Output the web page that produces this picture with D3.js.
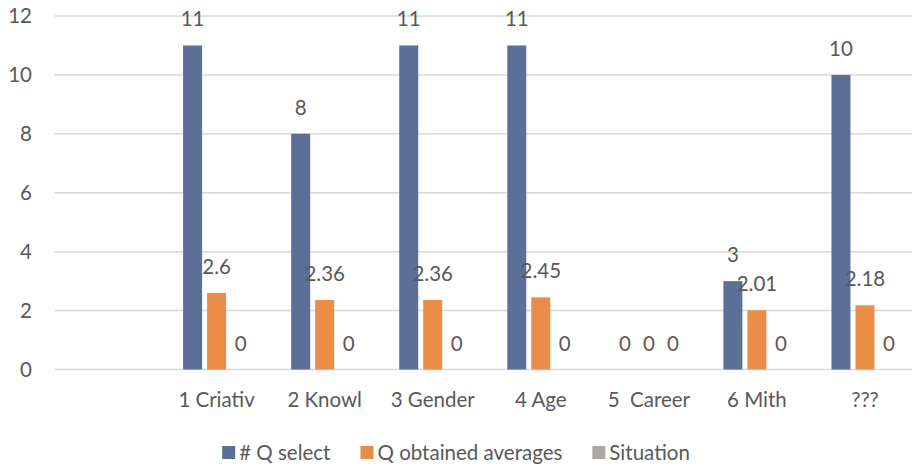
<!DOCTYPE html>
<html>
<head>
<meta charset="utf-8">
<script src="https://cdn.jsdelivr.net/npm/d3@7"></script>
<style>
  html, body { margin: 0; padding: 0; background: #fff; }
  svg { display: block; }
  text { font-family: Lato, "Open Sans", sans-serif; fill: #595959; white-space: pre; }
</style>
</head>
<body>
<svg id="chart" width="912" height="467"></svg>
<script>
// Categories (the first slot is an empty category)
const categories = ["", "1 Criativ", "2 Knowl", "3 Gender", "4 Age", "5  Career", "6 Mith", "???"];
const seriesNames = ["# Q select", "Q obtained averages", "Situation"];
const qSelect   = [null, 11, 8, 11, 11, 0, 3, 10];
const qAverages = [null, 2.6, 2.36, 2.36, 2.45, 0, 2.01, 2.18];
const situation = [null, 0, 0, 0, 0, 0, 0, 0];
const yTicks = [0, 2, 4, 6, 8, 10, 12];
const colors = ["#5b6f97", "#e98d49", "#aea8a5"];

const seriesValues = [qSelect, qAverages, situation];

const svg = d3.select("#chart");
const W = 912;
const FS = 20.5;

const y = d3.scaleLinear().domain([0, 12]).range([369.5, 16]);
const x0 = d3.scaleBand().domain(categories.map((c, i) => i)).range([54.5, 919]).padding(0);
const x1 = d3.scaleBand().domain(seriesNames).range([-33.5, 33.5]).paddingInner(5 / 24).paddingOuter(0);

// Horizontal gridlines
svg.append("g").selectAll("line")
  .data(yTicks)
  .join("line")
  .attr("x1", 54.5).attr("x2", W)
  .attr("y1", d => y(d)).attr("y2", d => y(d))
  .attr("stroke", "#dcd8d5").attr("stroke-width", 1.5);

// Y axis labels
const yAxis = d3.axisLeft(y).tickValues(yTicks).tickSize(0).tickPadding(0);
const yg = svg.append("g").attr("transform", "translate(32,0)").call(yAxis);
yg.select(".domain").remove();
yg.selectAll("text").attr("font-size", FS).attr("fill", "#595959")
  .style("font-family", "Lato, sans-serif");

// X axis labels
const xAxis = d3.axisBottom(x0).tickSize(0).tickPadding(0).tickFormat(i => categories[i]);
const xg = svg.append("g").attr("transform", "translate(0,392)").call(xAxis);
xg.select(".domain").remove();
xg.selectAll("text").attr("font-size", FS).attr("fill", "#595959")
  .style("font-family", "Lato, sans-serif").style("white-space", "pre");

// Bars and value labels
const groups = svg.append("g").selectAll("g")
  .data(categories.map((c, i) => i).filter(i => categories[i] !== ""))
  .join("g")
  .attr("transform", i => `translate(${x0(i) + x0.bandwidth() / 2},0)`);

seriesNames.forEach((name, s) => {
  groups.append("rect")
    .attr("x", x1(name))
    .attr("width", x1.bandwidth())
    .attr("y", i => y(seriesValues[s][i]))
    .attr("height", i => y(0) - y(seriesValues[s][i]))
    .attr("fill", colors[s]);
  groups.append("text")
    .attr("x", x1(name) + x1.bandwidth() / 2)
    .attr("y", i => y(seriesValues[s][i]) - 19)
    .attr("text-anchor", "middle")
    .attr("font-size", FS)
    .text(i => seriesValues[s][i]);
});

// Legend, centred under the plot
const legend = svg.append("g").attr("transform", "translate(0,453)");
const items = legend.selectAll("g").data(seriesNames).join("g");
items.append("rect")
  .attr("width", 13).attr("height", 13).attr("y", -7)
  .attr("fill", (d, i) => colors[i]);
items.append("text")
  .attr("x", 17).attr("y", 7)
  .attr("font-size", FS)
  .text(d => d);
let offs = [], total = 0;
items.each(function (d, i) {
  const w = 17 + this.querySelector("text").getComputedTextLength();
  offs.push(total);
  total += w + (i < seriesNames.length - 1 ? 30 : 0);
});
const start = W / 2 - total / 2;
items.attr("transform", (d, i) => `translate(${start + offs[i]},0)`);
</script>
</body>
</html>
